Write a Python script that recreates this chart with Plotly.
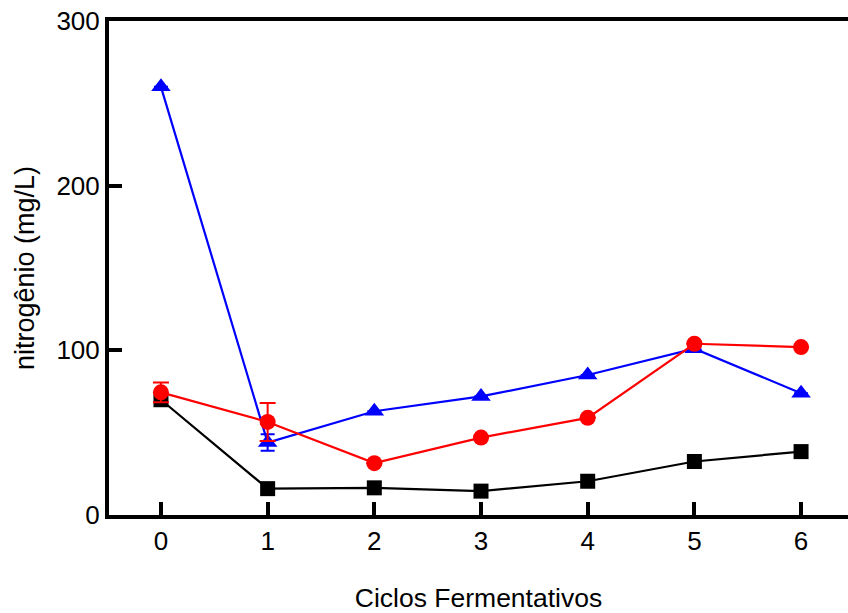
import plotly.graph_objects as go

# Fermentation cycles and nitrogen concentration (mg/L) per series
ciclos = [0, 1, 2, 3, 4, 5, 6]
serie_preta = [70, 16, 16.5, 14.5, 20.5, 32.5, 38.5]
serie_vermelha = [74.5, 56.5, 31.5, 47, 59, 104, 102]
erro_vermelha = [6, 11.5, 0, 0, 0, 0, 0]
serie_azul = [260, 44, 63, 72, 85, 101, 74]
erro_azul = [0, 5, 0, 0, 0, 0, 0]

y_ticks = [0, 100, 200, 300]
x_ticks = [0, 1, 2, 3, 4, 5, 6]

FONT = "Liberation Sans, Arial, sans-serif"

fig = go.Figure()

fig.add_trace(go.Scatter(
    x=ciclos, y=serie_preta, mode="lines+markers",
    line=dict(color="black", width=2.2),
    marker=dict(symbol="square", size=15, color="black"),
))
fig.add_trace(go.Scatter(
    x=ciclos, y=serie_azul, mode="lines+markers",
    line=dict(color="#0000ff", width=2.2),
    marker=dict(symbol="triangle-up", size=17, color="#0000ff"),
    error_y=dict(type="data", array=erro_azul, color="#0000ff",
                 thickness=2, width=7),
))
fig.add_trace(go.Scatter(
    x=ciclos, y=serie_vermelha, mode="lines+markers",
    line=dict(color="#ff0000", width=2.2),
    marker=dict(symbol="circle", size=16, color="#ff0000"),
    error_y=dict(type="data", array=erro_vermelha, color="#ff0000",
                 thickness=2, width=8),
))

fig.update_layout(
    width=848, height=613,
    margin=dict(l=109, r=0, t=21, b=98),
    paper_bgcolor="white", plot_bgcolor="white",
    showlegend=False,
    font=dict(family=FONT, size=26, color="black"),
    xaxis=dict(
        range=[-0.487, 6.44],
        tickmode="array", tickvals=x_ticks,
        ticks="inside", ticklen=13, tickwidth=4, tickcolor="black",
        showline=True, linewidth=4, linecolor="black", mirror=True,
        showgrid=False, zeroline=False,
        tickfont=dict(family=FONT, size=26),
        title=dict(text="Ciclos Fermentativos",
                   font=dict(family=FONT, size=26.5), standoff=34),
    ),
    yaxis=dict(
        range=[0, 300],
        tickmode="array", tickvals=y_ticks,
        ticks="inside", ticklen=13, tickwidth=4, tickcolor="black",
        showline=True, linewidth=4, linecolor="black",
        showgrid=False, zeroline=False,
        tickfont=dict(family=FONT, size=26),
        title=dict(text="nitrogênio (mg/L)",
                   font=dict(family=FONT, size=27), standoff=15),
    ),
)

fig.write_html("out.html")
